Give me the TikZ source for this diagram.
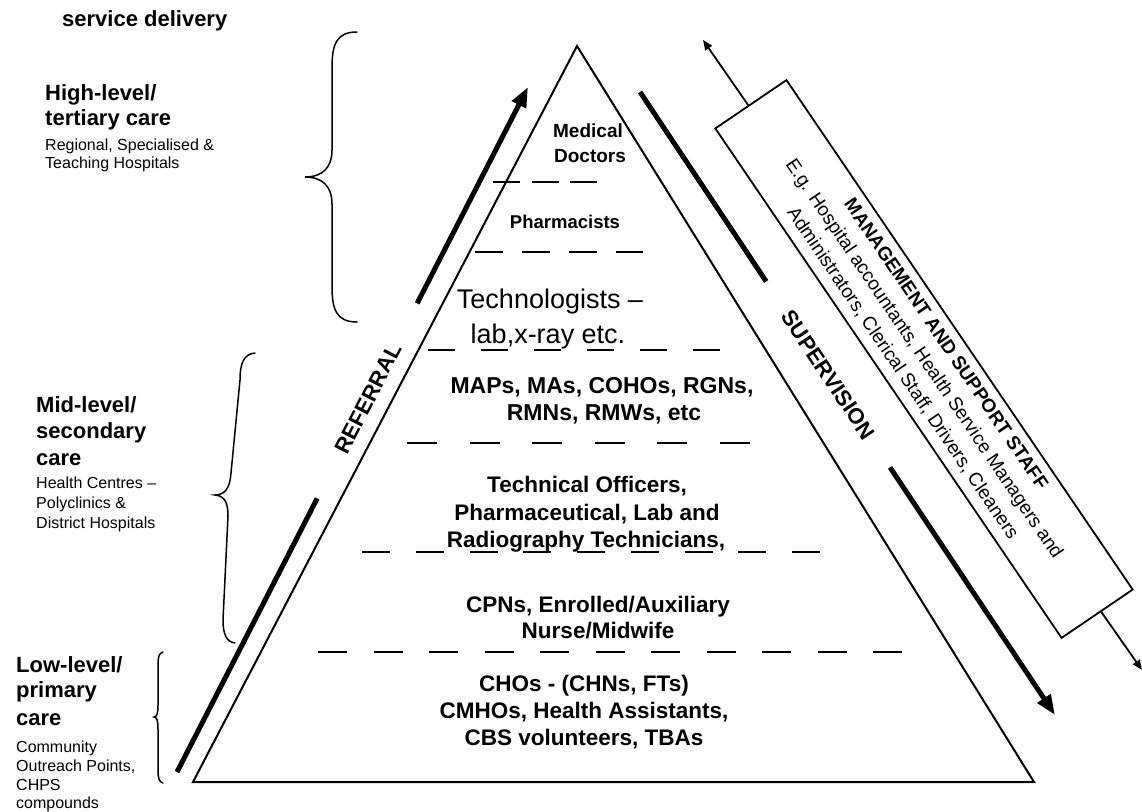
\documentclass[tikz,border=0pt]{standalone}
\usepackage{fontspec}
\setmainfont{Liberation Sans}
\usetikzlibrary{arrows.meta,calc}

\begin{document}
\begin{tikzpicture}[
			x=1pt, y=-1pt,
			every node/.style={inner sep=0pt, anchor=base},
			lvl/.style={font=\fontsize{22}{26}\selectfont\bfseries, anchor=base west},
			lvlsub/.style={font=\fontsize{16}{19}\selectfont, anchor=base west},
			tier/.style={font=\fontsize{#1}{#1}\selectfont\bfseries},
			tiertxt/.style={font=\fontsize{27}{32}\selectfont},
			rank/.style={line width=1.8pt, dash pattern=#1},
			brace/.style={line width=1.5pt, line cap=round},
			flow/.style={line width=5pt},
			flowtip/.style={-{Triangle[length=20pt,width=15pt]}},
			side/.style={line width=1.8pt, -{Triangle[length=10pt,width=8pt]}},
			flowlbl/.style={font=\fontsize{22}{22}\selectfont\bfseries, anchor=center}
			]

				\useasboundingbox (0,0) rectangle (1142,811);

				% levels of care
				\node[lvl] (title) at (62,27) {service delivery};
				\node[lvl] (hl1) at (45,100) {High-level/};
				\node[lvl] (hl2) at (45,125) {tertiary care};
				\node[lvlsub] (hl3) at (45,150) {Regional, Specialised \&};
				\node[lvlsub] (hl4) at (45,168) {Teaching Hospitals};

				\node[lvl] (ml1) at (36,412) {Mid-level/};
				\node[lvl] (ml2) at (36,438) {secondary};
				\node[lvl] (ml3) at (36,465) {care};
				\node[lvlsub] (ml4) at (36,488) {Health Centres –};
				\node[lvlsub] (ml5) at (36,508) {Polyclinics \&};
				\node[lvlsub] (ml6) at (36,528) {District Hospitals};

				\node[lvl] (ll1) at (16,672) {Low-level/};
				\node[lvl] (ll2) at (16,697) {primary};
				\node[lvl] (ll3) at (16,725) {care};
				\node[lvlsub] (ll4) at (16,752) {Community};
				\node[lvlsub] (ll5) at (16,771) {Outreach Points,};
				\node[lvlsub] (ll6) at (16,790) {CHPS};
				\node[lvlsub] (ll7) at (16,808) {compounds};

				\draw[brace] (357,32) .. controls (336,32) and (332,45) .. (332,68) -- (332,150)
					.. controls (332,168) and (322,177) .. (305,177) .. controls (322,177) and (332,186) .. (332,204)
					-- (332,286) .. controls (332,309) and (336,322) .. (357,322);
				\draw[brace] (255,353) .. controls (244,354) and (240,363) .. (240,380) -- (231,473)
					.. controls (230,488) and (225,495) .. (215,495) .. controls (225,496) and (228,503) .. (228,516)
					-- (223,620) .. controls (223,635) and (227,642) .. (235,643);
				\draw[brace] (163,652) .. controls (159,653) and (158,657) .. (158,665) -- (158,705)
					.. controls (158,713) and (157,717) .. (154,717) .. controls (157,717) and (158,721) .. (158,729)
					-- (158,770) .. controls (158,778) and (159,782) .. (163,783);

				% pyramid
				\coordinate (apex) at (577,46);
				\coordinate (bl) at (193,782);
				\coordinate (br) at (1034,782);
				\draw[line width=2pt] (apex) -- (br) -- (bl) -- cycle;

				\draw[rank={on 27pt off 11.5pt}] (493,182) -- (597,182);
				\draw[rank={on 28pt off 19pt}] (475,252) -- (643,252);
				\draw[rank={on 27pt off 26pt}] (428,350) -- (720,350);
				\draw[rank={on 30pt off 32.6pt}] (407,443) -- (750,443);
				\draw[rank={on 28pt off 25.75pt}] (362,552) -- (820,552);
				\draw[rank={on 29pt off 26.5pt}] (318,652) -- (902,652);

				\node[tier=19] (md1) at (588,137) {Medical};
				\node[tier=19] (md2) at (590,162) {Doctors};
				\node[tier=18.5] (ph) at (565,228) {Pharmacists};
				\node[tiertxt] (tc1) at (550,308) {Technologists –};
				\node[tiertxt] (tc2) at (548,343) {lab,x-ray etc.};
				\node[tier=23] (mp1) at (602,393) {MAPs, MAs, COHOs, RGNs,};
				\node[tier=23] (mp2) at (604,420) {RMNs, RMWs, etc};
				\node[tier=22.5] (to1) at (587,492) {Technical Officers,};
				\node[tier=22.5] (to2) at (587,520) {Pharmaceutical, Lab and};
				\node[tier=22.5] (to3) at (586,547) {Radiography Technicians,};
				\node[tier=22.5] (cp1) at (598,612) {CPNs, Enrolled/Auxiliary};
				\node[tier=22.5] (cp2) at (598,638) {Nurse/Midwife};
				\node[tier=22.5] (ch1) at (584,691) {CHOs - (CHNs, FTs)};
				\node[tier=22.5] (ch2) at (584,718) {CMHOs, Health Assistants,};
				\node[tier=22.5] (ch3) at (584,745) {CBS volunteers, TBAs};

				% referral and supervision
				\coordinate (rf0) at (177,772);
				\coordinate (rf1) at (528,87);
				\node[flowlbl, rotate=62.9] (referral) at ($(rf0)!0.545!(rf1)$) {REFERRAL};
				\draw[flow, shorten >=52pt] (rf0) -- (referral);
				\draw[flow, flowtip, shorten <=47pt] (referral) -- (rf1);

				\coordinate (sv0) at (640,92);
				\coordinate (sv1) at (1055,715);
				\node[flowlbl, rotate=-56.3] (supervision) at ($(sv0)!0.454!(sv1)$) {SUPERVISION};
				\draw[flow, shorten >=37pt] (sv0) -- (supervision);
				\draw[flow, flowtip, shorten <=36pt] (supervision) -- (sv1);

				% management and support staff
				\coordinate (mg0) at (703,40);
				\coordinate (mg1) at (1142,670);
				\node[draw, line width=1.8pt, fill=white, rotate=-55.8, minimum width=616pt, minimum height=86pt,
					anchor=center, align=center, font=\fontsize{19}{26}\selectfont] (mgmt) at (924,359)
					{\textbf{MANAGEMENT AND SUPPORT STAFF}\\E.g. Hospital accountants, Health Service Managers and\\Administrators, Clerical Staff, Drivers, Cleaners};
				\draw[side] (mgmt) -- (mg0);
				\draw[side] (mgmt) -- (mg1);

			\end{tikzpicture}
\end{document}
